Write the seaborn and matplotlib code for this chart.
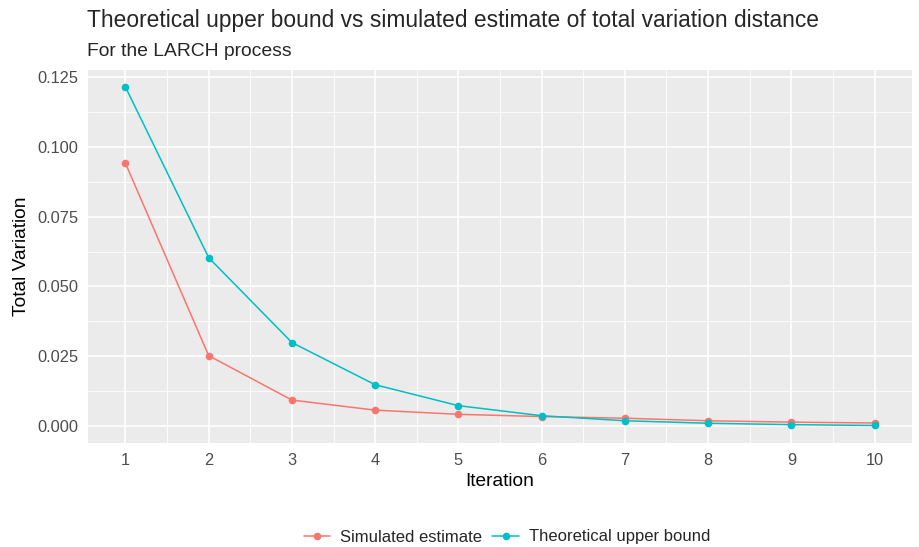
import pandas as pd
import matplotlib.pyplot as plt
import seaborn as sns
from matplotlib.ticker import MultipleLocator

# Values
iterations = [1, 2, 3, 4, 5, 6, 7, 8, 9, 10]
simulated = [0.0941, 0.0252, 0.0093, 0.0057, 0.0042, 0.0034, 0.0028, 0.0019, 0.0014, 0.0011]
theoretical = [0.1214, 0.0603, 0.0299, 0.0148, 0.0073, 0.0037, 0.0019, 0.0010, 0.0005, 0.0002]
series_names = ["Simulated estimate", "Theoretical upper bound"]
y_ticks = [0.000, 0.025, 0.050, 0.075, 0.100, 0.125]

df = pd.DataFrame({
    "Iteration": iterations * 2,
    "Total Variation": simulated + theoretical,
    "series": [series_names[0]] * len(iterations) + [series_names[1]] * len(iterations),
})

sns.set_style("darkgrid", {"axes.facecolor": "#EBEBEB", "grid.color": "white"})
plt.rcParams["font.family"] = ["Liberation Sans", "DejaVu Sans"]

fig = plt.figure(figsize=(9.19, 5.47), dpi=100)
ax = fig.add_axes([88 / 919, 1 - 443 / 547, (912 - 88) / 919, (443 - 70) / 547])

palette = {series_names[0]: "#F8766D", series_names[1]: "#00BFC4"}
sns.lineplot(data=df, x="Iteration", y="Total Variation", hue="series",
             palette=palette, marker="o", markersize=5.5, markeredgewidth=0,
             linewidth=1.1, ax=ax)

ax.set_xlim(0.55, 10.45)
ax.set_ylim(-0.00607, 0.1275)
ax.set_xticks(iterations)
ax.set_yticks(y_ticks)
ax.set_yticklabels([f"{v:.3f}" for v in y_ticks])
ax.xaxis.set_minor_locator(MultipleLocator(0.5))
ax.yaxis.set_minor_locator(MultipleLocator(0.0125))
ax.grid(which="major", color="white", linewidth=1.2)
ax.grid(which="minor", color="white", linewidth=0.6)
for s in ax.spines.values():
    s.set_visible(False)
ax.tick_params(axis="both", which="major", length=4, color="#333333",
               labelsize=11.8, labelcolor="#4D4D4D", pad=3)
ax.tick_params(axis="both", which="minor", length=0)
ax.set_xlabel("Iteration", fontsize=13.8, color="black", labelpad=4)
ax.set_ylabel("Total Variation", fontsize=13.8, color="black", labelpad=5)

fig.text(87 / 919, 1 - 21 / 547, "Theoretical upper bound vs simulated estimate of total variation distance",
         fontsize=16.4, va="center", ha="left")
fig.text(87 / 919, 1 - 52 / 547, "For the LARCH process", fontsize=13.9, va="center", ha="left")

handles, labels = ax.get_legend_handles_labels()
ax.legend(handles, labels, loc="center", bbox_to_anchor=(507 / 919, (547 - 537) / 547),
          bbox_transform=fig.transFigure, ncol=2, frameon=False, fontsize=12,
          handlelength=1.6, columnspacing=0.6, handletextpad=0.6)

fig.savefig("out.png", dpi=100)
